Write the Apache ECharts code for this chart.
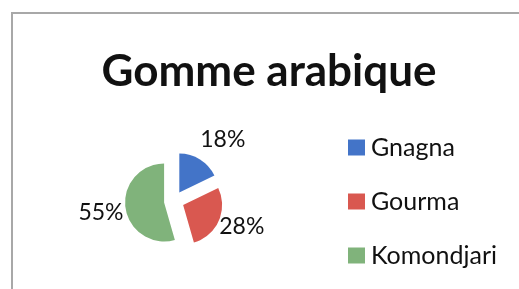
<!DOCTYPE html>
<html>
<head>
<meta charset="utf-8">
<script src="https://cdn.jsdelivr.net/npm/echarts@6/dist/echarts.min.js"></script>
<style>
    html, body { margin: 0; padding: 0; background: #fff; }
    .frame {
        position: absolute;
        left: 11px; top: 12px;
        width: 520px; height: 290px;
        border-left: 2px solid #a8a8a8;
        border-top: 2px solid #a8a8a8;
    }
    #chart { width: 519px; height: 289px; }
</style>
</head>
<body>
<div class="frame"></div>
<div id="chart"></div>
<script>
const regions = ['Gnagna', 'Gourma', 'Komondjari']
const shares = [18, 28, 55]
const colors = ['#4374c8', '#d95850', '#80b37b']

// small nudges so the percent labels sit where Excel put them
const labelNudge = [[-8, -15], [-10, 3], [9, 4]]

const chart = echarts.init(document.getElementById('chart'))

const data = regions.map((name, i) => ({
    name,
    value: shares[i],
    selected: true,
    itemStyle: { color: colors[i] }
}))

const option = {
    animation: false,
    title: {
        text: 'Gomme arabique',
        left: 264,
        top: 45,
        textAlign: 'center',
        textStyle: {
            fontFamily: 'Lato',
            fontWeight: 'bold',
            fontSize: 44,
            color: '#111'
        }
    },
    legend: {
        orient: 'vertical',
        left: 343,
        top: 130,
        icon: 'rect',
        itemWidth: 17,
        itemHeight: 16,
        itemGap: 29,
        selectedMode: false,
        textStyle: {
            fontFamily: 'Lato',
            fontSize: 25,
            color: '#111',
            padding: [0, 0, 0, 1]
        },
        data: regions
    },
    series: [
        {
            type: 'pie',
            center: [174, 201],
            radius: 39,
            startAngle: 90,
            selectedMode: 'multiple',
            selectedOffset: 10,
            label: {
                show: true,
                formatter: '{c}%',
                fontFamily: 'Lato',
                fontSize: 23,
                color: '#111'
            },
            labelLine: {
                show: false,
                length: 6,
                length2: 0
            },
            labelLayout: (params) => ({
                dx: labelNudge[params.dataIndex][0],
                dy: labelNudge[params.dataIndex][1]
            }),
            emphasis: { disabled: true },
            data
        }
    ]
}

chart.setOption(option)
</script>
</body>
</html>
